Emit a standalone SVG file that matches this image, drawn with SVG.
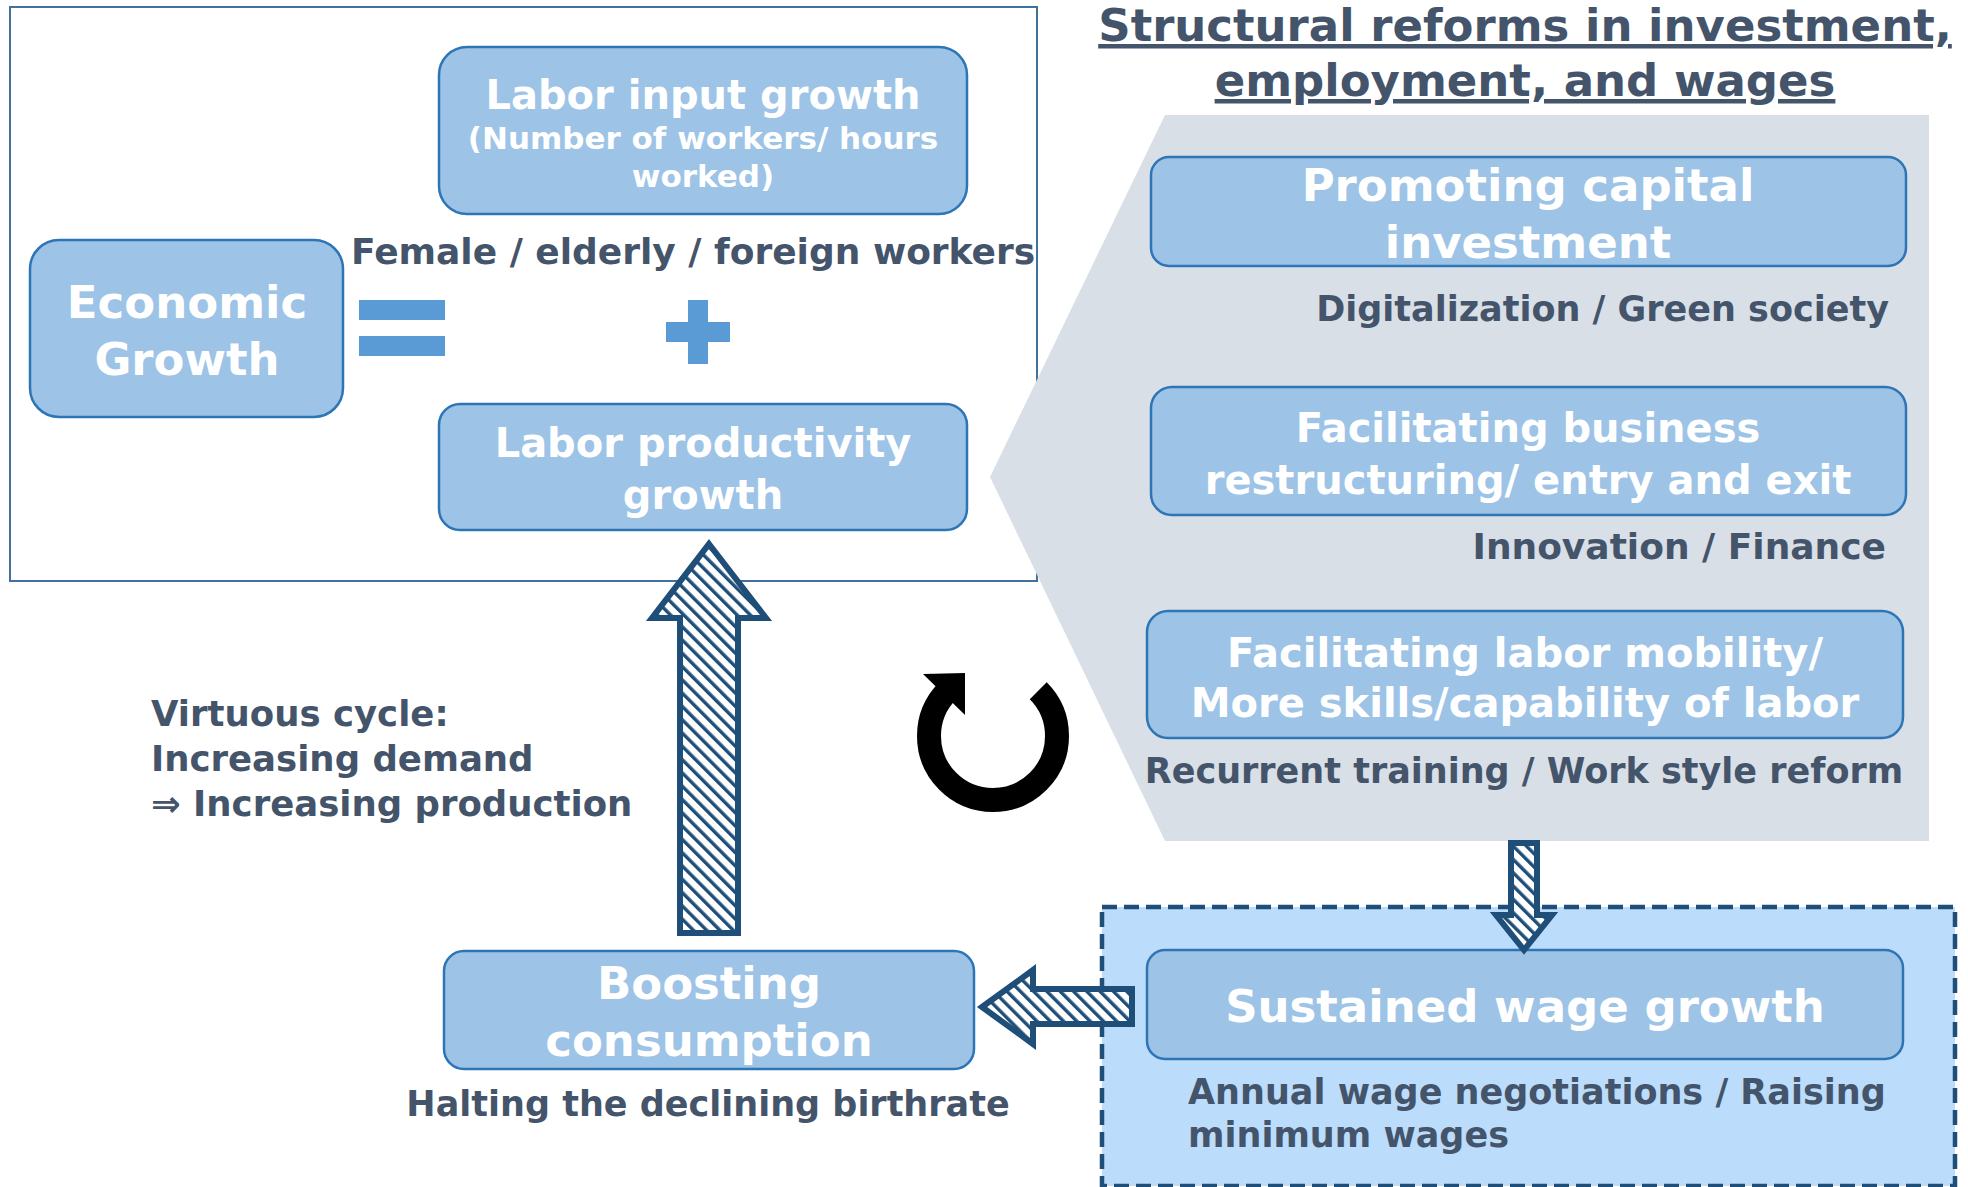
<svg xmlns="http://www.w3.org/2000/svg" width="1968" height="1187" viewBox="0 0 1968 1187">
  <defs>
    <style>
      .box { fill: #9DC3E6; stroke: #2E75B6; stroke-width: 2.5; }
      .t { font-family: "DejaVu Sans", Verdana, sans-serif; font-weight: bold; }
      .w { fill: #FFFFFF; text-anchor: middle; }
      .d { fill: #44546A; }
      .sym { fill: #5B9BD5; }
      .fat { stroke: #1F4E79; stroke-width: 6; stroke-linejoin: miter; fill: url(#hatch); }
    </style>
    <!-- wide downward diagonal hatch used by the block arrows -->
    <pattern id="hatch" patternUnits="userSpaceOnUse" width="9.4" height="9.4" patternTransform="rotate(-45)">
      <rect width="9.4" height="9.4" fill="#FFFFFF"/>
      <rect width="3.4" height="9.4" fill="#1F4E79"/>
    </pattern>
  </defs>

  <rect width="1968" height="1187" fill="#FFFFFF"/>

  <!-- growth equation frame -->
  <rect id="equation-frame" x="10" y="7" width="1027" height="574" fill="none" stroke="#41719C" stroke-width="2"/>

  <!-- grey reform panel -->
  <polygon id="reform-panel" points="1165,115 1929,115 1929,841 1165,841 990,477" fill="#D9DFE7"/>

  <!-- wage band -->
  <rect id="wage-band" x="1102" y="907" width="853" height="279" fill="#BBDCFB" stroke="#1F4E79" stroke-width="4.5" stroke-dasharray="15 7"/>

  <!-- title -->
  <g id="title" class="t d" font-size="45" text-anchor="middle" text-decoration="underline">
    <text x="1525" y="41">Structural reforms in investment,</text>
    <text x="1525" y="96">employment, and wages</text>
  </g>

  <!-- equation -->
  <g id="economic-growth">
    <rect class="box" x="30" y="240" width="313" height="177" rx="29"/>
    <text class="t w" font-size="45" x="187" y="318">Economic</text>
    <text class="t w" font-size="45" x="187" y="375">Growth</text>
  </g>

  <g id="equals-sign" class="sym">
    <rect x="359" y="300" width="86" height="20"/>
    <rect x="359" y="336" width="86" height="20"/>
  </g>

  <g id="plus-sign" class="sym">
    <rect x="688" y="300" width="20" height="64"/>
    <rect x="666" y="322" width="64" height="20"/>
  </g>

  <g id="labor-input">
    <rect class="box" x="439" y="47" width="528" height="167" rx="28"/>
    <text class="t w" font-size="40" x="703" y="109">Labor input growth</text>
    <text class="t w" font-size="31" x="703" y="149">(Number of workers/ hours</text>
    <text class="t w" font-size="31" x="703" y="187">worked)</text>
  </g>

  <text id="labor-input-note" class="t d" font-size="36" x="351" y="264">Female / elderly / foreign workers</text>

  <g id="labor-productivity">
    <rect class="box" x="439" y="404" width="528" height="126" rx="21"/>
    <text class="t w" font-size="40" x="703" y="457">Labor productivity</text>
    <text class="t w" font-size="40" x="703" y="509">growth</text>
  </g>

  <!-- reforms -->
  <g id="capital-investment">
    <rect class="box" x="1151" y="157" width="755" height="109" rx="18"/>
    <text class="t w" font-size="45" x="1528" y="201">Promoting capital</text>
    <text class="t w" font-size="45" x="1528" y="258">investment</text>
    <text class="t d" font-size="35" x="1889" y="321" text-anchor="end">Digitalization / Green society</text>
  </g>

  <g id="business-restructuring">
    <rect class="box" x="1151" y="387" width="755" height="128" rx="21"/>
    <text class="t w" font-size="40" x="1528" y="442">Facilitating business</text>
    <text class="t w" font-size="40" x="1528" y="494">restructuring/ entry and exit</text>
    <text class="t d" font-size="36" x="1886" y="559" text-anchor="end">Innovation / Finance</text>
  </g>

  <g id="labor-mobility">
    <rect class="box" x="1147" y="611" width="756" height="127" rx="21"/>
    <text class="t w" font-size="40" x="1525" y="667">Facilitating labor mobility/</text>
    <text class="t w" font-size="40" x="1525" y="717">More skills/capability of labor</text>
    <text class="t d" font-size="35" x="1524" y="783" text-anchor="middle">Recurrent training / Work style reform</text>
  </g>

  <g id="wage-growth">
    <rect class="box" x="1147" y="950" width="756" height="109" rx="18"/>
    <text class="t w" font-size="45" x="1525" y="1022">Sustained wage growth</text>
    <text class="t d" font-size="35" x="1188" y="1104">Annual wage negotiations / Raising</text>
    <text class="t d" font-size="35" x="1188" y="1147">minimum wages</text>
  </g>

  <g id="consumption">
    <rect class="box" x="444" y="951" width="530" height="118" rx="20"/>
    <text class="t w" font-size="45" x="709" y="999">Boosting</text>
    <text class="t w" font-size="45" x="709" y="1056">consumption</text>
    <text class="t d" font-size="35" x="708" y="1116" text-anchor="middle">Halting the declining birthrate</text>
  </g>

  <g id="virtuous-cycle-note" class="t d" font-size="35.5">
    <text x="151" y="726">Virtuous cycle:</text>
    <text x="151" y="771">Increasing demand</text>
    <text x="151" y="816">⇒ Increasing production</text>
  </g>

  <!-- connectors -->
  <g id="connectors">
    <!-- consumption up to productivity -->
    <polygon class="fat" points="709,544 766,618 738,618 738,933 680,933 680,618 652,618"/>
    <!-- wage growth left to consumption -->
    <polygon class="fat" points="982,1007 1033,970 1033,989 1132,989 1132,1024 1033,1024 1033,1044"/>
    <!-- reforms down to wage growth -->
    <polygon class="fat" points="1511,843 1537,843 1537,915 1552,915 1524,950 1496,915 1511,915"/>
    <!-- clockwise cycle mark -->
    <g id="cycle-mark" fill="#000000">
      <path d="M1038.25 690.75 A64 64 0 1 1 947.75 690.75" fill="none" stroke="#000000" stroke-width="24"/>
      <polygon points="923,674 965,673 965,715"/>
    </g>
  </g>
</svg>
